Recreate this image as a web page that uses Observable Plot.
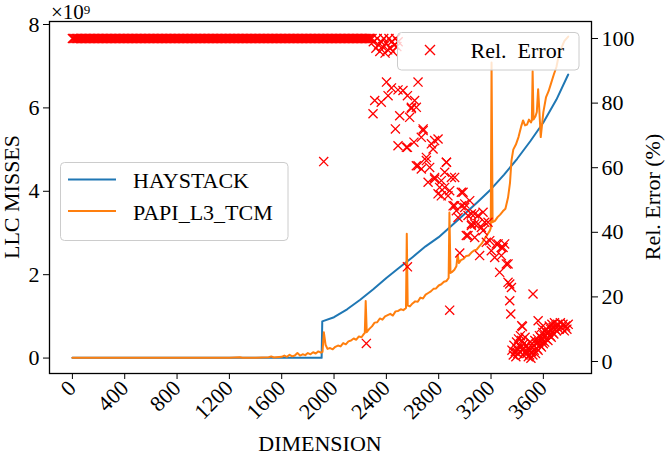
<!DOCTYPE html>
<html><head><meta charset="utf-8">
<script src="https://cdn.jsdelivr.net/npm/d3@7"></script>
<script src="https://cdn.jsdelivr.net/npm/@observablehq/plot@0.6"></script>
<style>
body{margin:0;background:#fff;}
#wrap{position:relative;width:665px;height:457px;font-family:"Liberation Serif","Times New Roman",Times,serif;}
#wrap svg{position:absolute;left:0;top:0;}
#wrap svg, #wrap svg text, #wrap svg g{font-family:"Liberation Serif","Times New Roman",Times,serif !important;}
</style></head><body><div id="wrap"></div>
<script>
// ---- data (LLC misses in units of 1e9) ----
const hayDims = [0, 1905, 1910, 2000, 2100, 2200, 2300, 2400, 2500, 2600, 2700, 2800, 2900, 3000, 3100, 3200, 3300, 3400, 3500, 3600, 3700, 3790];
const hayVals = [0.005, 0.005, 0.88, 0.98, 1.17, 1.40, 1.65, 1.92, 2.17, 2.42, 2.68, 2.90, 3.18, 3.46, 3.75, 4.05, 4.40, 4.78, 5.20, 5.65, 6.20, 6.80];

const papiDims = [0, 1200, 1280, 1300, 1400, 1500, 1520, 1540, 1600, 1620, 1640, 1660, 1680, 1700, 1720, 1740, 1760, 1780, 1800, 1820, 1840, 1860, 1880, 1900, 1912, 1922, 1935, 1950, 1970, 1990, 2010, 2030, 2050, 2070, 2090, 2110, 2130, 2150, 2170, 2190, 2210, 2228, 2235, 2242, 2250, 2270, 2290, 2310, 2330, 2350, 2370, 2390, 2410, 2430, 2450, 2470, 2490, 2510, 2530, 2550, 2556, 2563, 2580, 2600, 2620, 2640, 2660, 2680, 2700, 2720, 2740, 2760, 2780, 2800, 2820, 2840, 2860, 2876, 2882, 2890, 2900, 2920, 2935, 2945, 2955, 2970, 2990, 3010, 3030, 3050, 3070, 3090, 3110, 3130, 3150, 3170, 3190, 3198, 3204, 3212, 3230, 3250, 3270, 3290, 3310, 3330, 3345, 3356, 3370, 3390, 3410, 3430, 3445, 3460, 3475, 3490, 3505, 3512, 3518, 3525, 3540, 3550, 3560, 3570, 3580, 3590, 3600, 3620, 3640, 3660, 3680, 3700, 3720, 3740, 3760, 3790];
const papiVals = [0.005, 0.008, 0.02, 0.008, 0.01, 0.02, 0.04, 0.015, 0.03, 0.06, 0.03, 0.08, 0.04, 0.06, 0.12, 0.06, 0.09, 0.07, 0.12, 0.09, 0.14, 0.11, 0.16, 0.13, 0.15, 0.62, 0.32, 0.22, 0.24, 0.21, 0.27, 0.30, 0.28, 0.36, 0.33, 0.40, 0.42, 0.47, 0.44, 0.52, 0.50, 0.58, 0.60, 1.37, 0.62, 0.70, 0.76, 0.85, 0.86, 0.95, 0.92, 1.00, 1.03, 1.06, 1.02, 1.12, 1.13, 1.17, 1.15, 1.20, 2.98, 1.26, 1.24, 1.31, 1.36, 1.35, 1.45, 1.43, 1.52, 1.56, 1.60, 1.66, 1.67, 1.74, 1.77, 1.83, 1.85, 1.92, 3.49, 2.04, 2.06, 2.12, 2.20, 2.48, 2.28, 2.35, 2.38, 2.45, 2.46, 2.53, 2.58, 2.60, 2.68, 2.75, 2.86, 2.95, 3.05, 3.12, 7.09, 3.26, 3.29, 3.38, 3.44, 3.52, 3.58, 3.85, 4.20, 4.73, 5.00, 5.12, 5.30, 5.55, 5.70, 5.58, 5.60, 5.72, 5.65, 5.70, 6.88, 5.72, 5.80, 5.90, 6.45, 5.90, 5.30, 5.60, 5.90, 6.25, 6.40, 6.60, 6.80, 6.98, 7.30, 7.45, 7.60, 7.71];

// relative error (%): dense band at 100% up to dimension 2290
const bandDims = d3.range(0, 2300, 10);
const bandErr = 100;
const errDims = [2300, 2320, 2330, 2340, 2350, 2360, 2370, 2380, 2390, 2400, 2410, 2420, 2430, 2440, 2450, 2460, 2470, 2480, 2490,
  1921, 2247, 2561, 2884,
  2298, 2311, 2361, 2401, 2413, 2439, 2469, 2489, 2489, 2502, 2527, 2561, 2561, 2578, 2591, 2611, 2616, 2629, 2629, 2642, 2667, 2667, 2681, 2706, 2719, 2731, 2744, 2757, 2769, 2795, 2795, 2820, 2846, 2859, 2871, 2910, 2922, 2935, 2948, 2986, 2999, 3037, 3050, 3075, 3101, 3139, 3177, 2973, 3050, 3075, 3024, 3139, 3164, 3202, 3240, 3292, 3279, 3330, 3266, 3330, 3356, 3343, 3351, 3440, 3521, 3560, 2961, 3113,
  2591, 2681, 2769, 2553, 2642, 2706, 2859, 2769, 2846, 2897, 2807, 2820, 2884, 2973, 2922, 2999, 3024, 3101, 3050, 3126, 3152, 3011, 3075, 3190, 3254, 3304, 3279, 3228, 3317, 3343, 3435, 3585,
  3360, 3370, 3375, 3385, 3390, 3395, 3400, 3405, 3410, 3415, 3420, 3425, 3430, 3435, 3440, 3445, 3450, 3455, 3460, 3465, 3470, 3475, 3480, 3485, 3490, 3495, 3500, 3505, 3510, 3515, 3520, 3525, 3530, 3535, 3540, 3545, 3550, 3555, 3560, 3565, 3570, 3575, 3580, 3585, 3590, 3595, 3600, 3605, 3610, 3615, 3620, 3625, 3630, 3635, 3640, 3645, 3650, 3655, 3660, 3665, 3670, 3675, 3680, 3685, 3690, 3695, 3700, 3710, 3720, 3730, 3740, 3750, 3760, 3770, 3780, 3790];
const errVals = [99, 97, 100, 98, 96, 99, 97.5, 100, 95.5, 98.5, 96.5, 100, 97, 99, 96, 98, 100, 97.5, 99,
  61.9, 5.6, 29.3, 15.9,
  76.7, 80.8, 80.3, 86.5, 82.3, 84.7, 72.0, 84.1, 66.8, 76.1, 83.9, 82.3, 66.3, 75.6, 78.7, 67.9, 80.8, 78.7, 60.6, 86.5, 69.4, 59.6, 71.5, 63.2, 55.5, 60.1, 67.4, 65.8, 57.0, 68.9, 51.9, 56.0, 53.9, 61.7, 51.3, 48.2, 57.0, 46.7, 44.6, 52.4, 48.8, 49.8, 42.6, 45.7, 42.6, 46.2, 43.1, 48.2, 45.7, 42.6, 39.0, 40.5, 36.9, 34.3, 36.4, 35.3, 32.8, 30.2, 27.6, 24.5, 22.9, 18.8, 14.7, 10.8, 20.9, 12.6, 33.6, 32.8,
  78.3, 72.0, 68.4, 66.3, 60.6, 62.2, 61.7, 56.5, 58.6, 57.0, 53.9, 51.3, 52.9, 52.4, 48.2, 47.7, 45.2, 45.2, 42.1, 41.5, 43.1, 39.0, 38.4, 37.4, 36.4, 36.4, 35.3, 32.2, 30.2, 24.0, 11.1, 10.5,
  3.5, 2.0, 5.0, 3.0, 1.5, 6.0, 4.0, 2.5, 7.0, 5.0, 3.0, 8.0, 4.5, 6.5, 3.5, 2.0, 5.5, 4.0, 7.5, 3.0, 5.0, 2.5, 4.0, 1.5, 3.5, 2.0, 6.0, 1.0, 3.0, 4.5, 2.0, 5.0, 3.5, 6.5, 2.5, 5.5, 4.0, 7.0, 3.5, 6.0, 8.0, 5.0, 7.5, 4.5, 6.5, 9.0, 5.5, 8.0, 6.0, 9.5, 7.0, 10.0, 8.5, 6.5, 9.0, 11.0, 8.0, 10.0, 7.5, 11.5, 9.0, 10.5, 8.5, 12.0, 10.0, 11.0, 9.5, 11.5, 10.0, 12.0, 10.5, 11.5, 9.5, 11.0, 10.0, 11.5];

const xTicks = [0, 400, 800, 1200, 1600, 2000, 2400, 2800, 3200, 3600];
const yLeftTicks = [0, 2, 4, 6, 8];
const yRightTicks = [0, 20, 40, 60, 80, 100];

// ---- tables ----
const hay = hayDims.map((d, i) => ({dim: d, v: hayVals[i]}));
const papi = papiDims.map((d, i) => ({dim: d, v: papiVals[i]}));
const errs = bandDims.map(d => ({dim: d, e: bandErr})).concat(errDims.map((d, i) => ({dim: d, e: errVals[i]})));

const FONT = '"Liberation Serif", "Times New Roman", Times, serif';
const W = 665, H = 457;
const common = {
  width: W, height: H, marginTop: 21, marginRight: 74, marginBottom: 84, marginLeft: 49,
  style: {fontFamily: FONT, fontSize: "22px", background: "transparent", color: "#000", overflow: "visible"}
};
const xDomain = [-175, 3968];

const p1 = Plot.plot({
  ...common,
  x: {domain: xDomain},
  y: {domain: [-0.37, 8.072]},
  marks: [
    Plot.line(hay, {x: "dim", y: "v", stroke: "#1f77b4", strokeWidth: 2}),
    Plot.line(papi, {x: "dim", y: "v", stroke: "#ff7f0e", strokeWidth: 2}),
    Plot.axisX({ticks: xTicks, tickSize: 6, tickPadding: 5, tickRotate: -45, label: null, fontFamily: FONT, fontSize: 22, tickFormat: d => String(d)}),
    Plot.axisY({ticks: yLeftTicks, tickSize: 6, tickPadding: 4, label: null, fontFamily: FONT, fontSize: 22, tickFormat: d => String(d)}),
    Plot.frame({stroke: "#000", strokeWidth: 1.3})
  ]
});

const p2 = Plot.plot({
  ...common,
  x: {domain: xDomain, axis: null},
  y: {domain: [-3.72, 105.27], axis: null},
  marks: [
    Plot.dot(errs, {x: "dim", y: "e", symbol: "times", r: 4.2, stroke: "#ff0000", strokeWidth: 1.3}),
    Plot.axisY({anchor: "right", ticks: yRightTicks, tickSize: 6, tickPadding: 4, label: null, fontFamily: FONT, fontSize: 22, tickFormat: d => String(d)})
  ]
});

const wrap = document.getElementById("wrap");
wrap.appendChild(p1);
wrap.appendChild(p2);

// ---- overlay: titles, offset text, legends ----
const ov = d3.select(wrap).append("svg")
  .attr("width", W).attr("height", H)
  .attr("font-family", FONT).attr("font-size", 22);

ov.append("text").attr("x", 320).attr("y", 451).attr("text-anchor", "middle").text("DIMENSION");
ov.append("text").attr("transform", "translate(19,197) rotate(-90)").attr("text-anchor", "middle").text("LLC MISSES");
ov.append("text").attr("transform", "translate(660,197) rotate(-90)").attr("text-anchor", "middle").text("Rel. Error (%)");

const off = ov.append("text").attr("x", 51).attr("y", 19).attr("font-size", 21);
off.append("tspan").text("×10");
off.append("tspan").attr("dy", -5).attr("font-size", 13).text("9");

// left legend
const lg = ov.append("g");
lg.append("rect").attr("x", 60.5).attr("y", 162.5).attr("width", 227.5).attr("height", 78).attr("rx", 4)
  .attr("fill", "#fff").attr("fill-opacity", 0.8).attr("stroke", "#cccccc").attr("stroke-width", 1);
lg.append("line").attr("x1", 68).attr("x2", 116).attr("y1", 179.5).attr("y2", 179.5).attr("stroke", "#1f77b4").attr("stroke-width", 2);
lg.append("line").attr("x1", 68).attr("x2", 116).attr("y1", 211).attr("y2", 211).attr("stroke", "#ff7f0e").attr("stroke-width", 2);
lg.append("text").attr("x", 133).attr("y", 187.5).text("HAYSTACK");
lg.append("text").attr("x", 133).attr("y", 219.5).text("PAPI_L3_TCM");

// right legend
const rg = ov.append("g");
rg.append("rect").attr("x", 397.5).attr("y", 32.5).attr("width", 181.5).attr("height", 37.5).attr("rx", 4)
  .attr("fill", "#fff").attr("fill-opacity", 0.8).attr("stroke", "#cccccc").attr("stroke-width", 1);
rg.append("path").attr("d", "M425,45L435,55M425,55L435,45").attr("stroke", "#ff0000").attr("stroke-width", 1.4);
rg.append("text").attr("x", 470.5).attr("y", 57.5).style("white-space", "pre").text("Rel.  Error");
</script></body></html>
